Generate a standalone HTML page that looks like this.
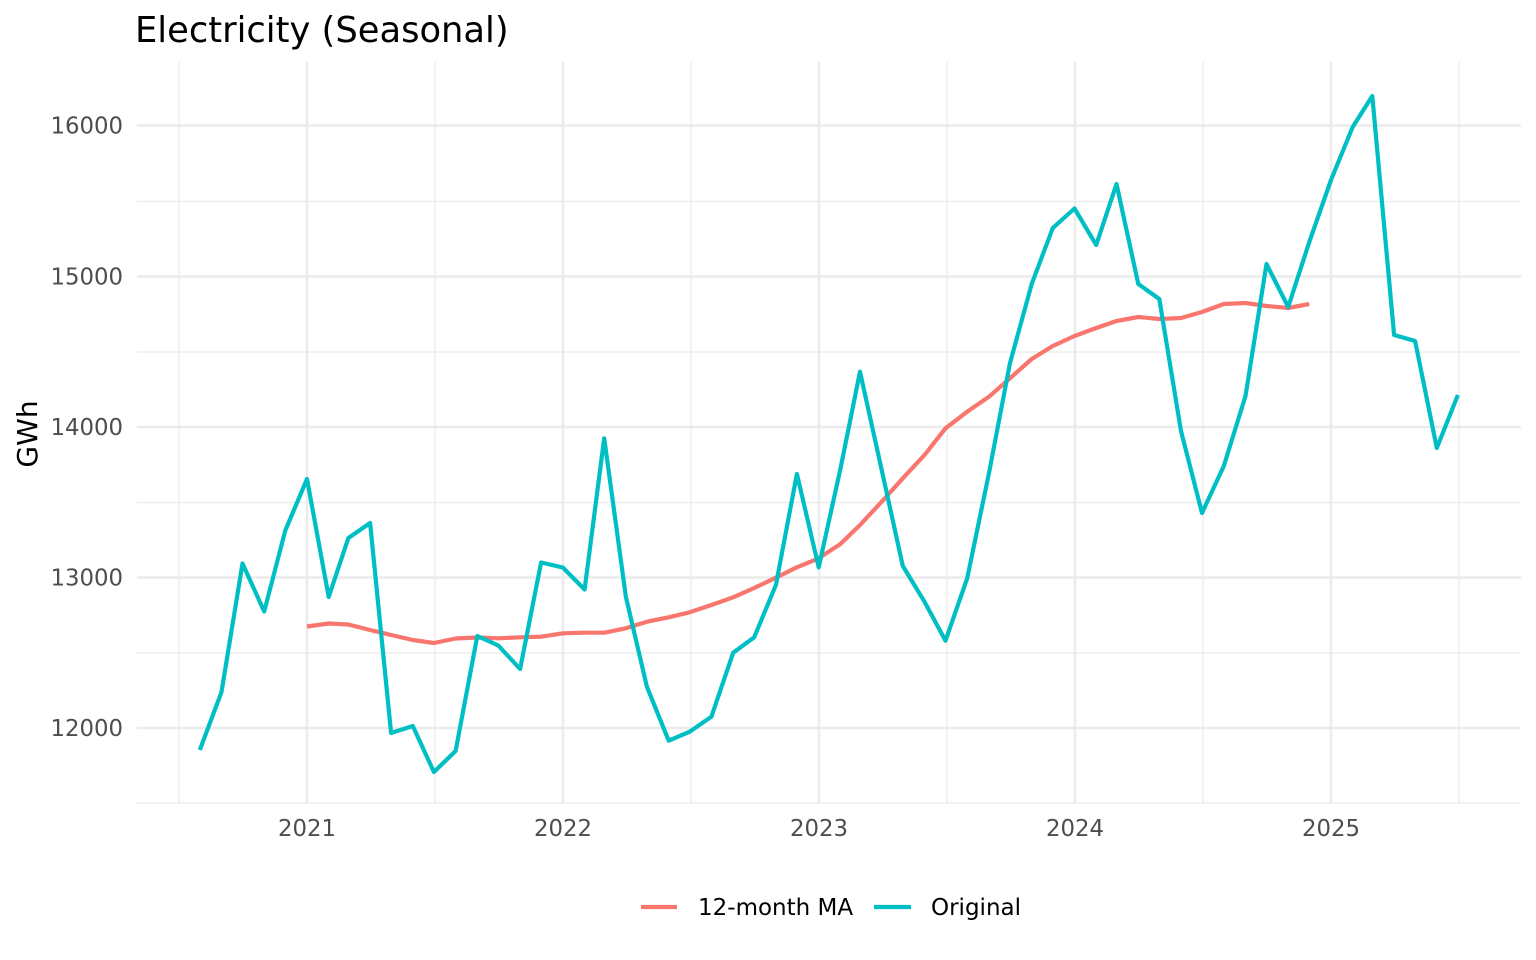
<!DOCTYPE html>
<html>
<head>
<meta charset="utf-8">
<style>
  html, body { margin: 0; padding: 0; background: #ffffff; }
  svg { display: block; }
  text { font-family: "DejaVu Sans", "Liberation Sans", sans-serif; }
</style>
</head>
<body>
<svg width="1536" height="960" viewBox="0 0 1536 960" xmlns="http://www.w3.org/2000/svg">
  <rect x="0" y="0" width="1536" height="960" fill="#ffffff"/>

  <!-- minor grid -->
  <g stroke="#EBEBEB" stroke-width="1.3" fill="none">
    <line x1="137" y1="803" x2="1521" y2="803"/>
    <line x1="137" y1="653" x2="1521" y2="653"/>
    <line x1="137" y1="502.5" x2="1521" y2="502.5"/>
    <line x1="137" y1="352" x2="1521" y2="352"/>
    <line x1="137" y1="201.5" x2="1521" y2="201.5"/>
    <line x1="179" y1="62" x2="179" y2="803"/>
    <line x1="435" y1="62" x2="435" y2="803"/>
    <line x1="691" y1="62" x2="691" y2="803"/>
    <line x1="947" y1="62" x2="947" y2="803"/>
    <line x1="1203" y1="62" x2="1203" y2="803"/>
    <line x1="1459" y1="62" x2="1459" y2="803"/>
  </g>
  <!-- major grid -->
  <g stroke="#EBEBEB" stroke-width="2.4" fill="none">
    <line x1="137" y1="728" x2="1521" y2="728"/>
    <line x1="137" y1="577.5" x2="1521" y2="577.5"/>
    <line x1="137" y1="427" x2="1521" y2="427"/>
    <line x1="137" y1="276.5" x2="1521" y2="276.5"/>
    <line x1="137" y1="125.5" x2="1521" y2="125.5"/>
    <line x1="307" y1="62" x2="307" y2="803"/>
    <line x1="563" y1="62" x2="563" y2="803"/>
    <line x1="819" y1="62" x2="819" y2="803"/>
    <line x1="1075" y1="62" x2="1075" y2="803"/>
    <line x1="1331" y1="62" x2="1331" y2="803"/>
  </g>

  <!-- 12-month MA -->
  <polyline fill="none" stroke="#F8766D" stroke-width="4.2" stroke-linejoin="round" stroke-linecap="butt"
    points="307,626.5 328.7,623.5 348.4,624.5 370.1,630 391.1,635 412.8,640 433.9,643 455.6,638.5 477.3,637.5 498.3,638.3 520.1,637.3 541.1,636.7 562.8,633.3 584.6,632.7 604.2,632.7 625.9,628.3 646.9,621.7 668.7,617.3 689.7,612.3 711.4,605 733.2,597.3 754.2,588 775.9,577.7 796.9,567.3 818.7,558.3 840.4,544 860,525 881.7,501.7 902.8,478.3 924.5,455 945.5,428.3 967.2,411.7 989,396.7 1010,378.3 1031.7,359 1052.8,346 1074.5,336 1096.2,328 1116.5,321 1138.3,317 1159.3,319 1181,318 1202,312 1223.8,304 1245.5,303 1266.5,306 1288.2,308 1309.3,304"/>

  <!-- Original -->
  <polyline fill="none" stroke="#00BFC4" stroke-width="4.2" stroke-linejoin="round" stroke-linecap="butt"
    points="199.8,750 221.5,692 242.5,563.5 264.2,611.5 285.3,530.5 307,479 328.7,597 348.4,538 370.1,523 391.1,733 412.8,726 433.9,772 455.6,751 477.3,636 498.3,645.5 520.1,669 541.1,562.5 562.8,567.5 584.6,589.5 604.2,438.3 625.9,597 646.9,686.7 668.7,740.7 689.7,731.7 711.4,716.7 733.2,652.7 754.2,637.3 775.9,585 796.9,474 818.7,567.3 840.4,469 860,371.7 881.7,470 902.8,566 924.5,601.7 945.5,640.7 967.2,578.3 989,473 1010,363 1031.7,284 1052.8,228 1074.5,208.5 1096.2,245 1116.5,184 1138.3,284 1159.3,299 1181,431 1202,513 1223.8,466 1245.5,396 1266.5,264 1288.2,307 1309.3,242 1331,180 1352.7,127 1372.3,96 1394.1,335 1415.1,341 1436.8,448 1457.9,395"/>

  <!-- Y tick labels -->
  <g font-size="22.8" fill="#4D4D4D" text-anchor="end">
    <text x="123" y="736">12000</text>
    <text x="123" y="585.5">13000</text>
    <text x="123" y="435">14000</text>
    <text x="123" y="284.5">15000</text>
    <text x="123" y="133.5">16000</text>
  </g>

  <!-- X tick labels -->
  <g font-size="22.8" fill="#4D4D4D" text-anchor="middle">
    <text x="307" y="836">2021</text>
    <text x="563" y="836">2022</text>
    <text x="819" y="836">2023</text>
    <text x="1075" y="836">2024</text>
    <text x="1331" y="836">2025</text>
  </g>

  <!-- Y axis title -->
  <text transform="translate(37,434) rotate(-90)" font-size="28" fill="#000000" text-anchor="middle">GWh</text>

  <!-- Title -->
  <text x="135" y="42" font-size="35.3" fill="#000000">Electricity (Seasonal)</text>

  <!-- Legend -->
  <line x1="641" y1="907" x2="677" y2="907" stroke="#F8766D" stroke-width="4.2"/>
  <text x="698" y="915" font-size="23" fill="#000000">12-month MA</text>
  <line x1="874" y1="907" x2="911" y2="907" stroke="#00BFC4" stroke-width="4.2"/>
  <text x="931" y="915" font-size="23" fill="#000000">Original</text>
</svg>
</body>
</html>
